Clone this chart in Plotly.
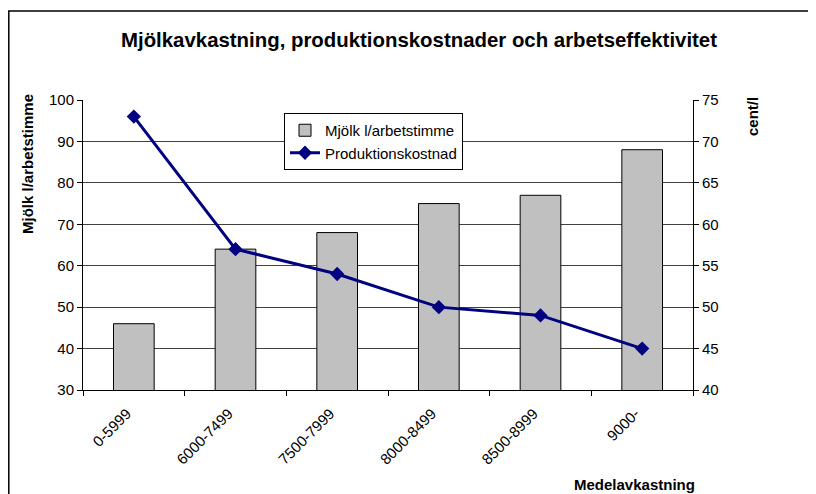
import plotly.graph_objects as go

categories = ["0-5999", "6000-7499", "7500-7999", "8000-8499", "8500-8999", "9000-"]
milk_per_hour = [46, 64, 68, 75, 77, 88]
production_cost = [73, 57, 54, 50, 49, 45]

# page body has an 8px margin; work in reference-pixel coordinates
O = 8
W, H = 816 - O, 494 - O
L, R, T, B = 83 - O, 693 - O, 100 - O, 390 - O


def px(x):
    return ((x - O) - L) / (R - L)


def py(y):
    return (B - (y - O)) / (B - T)


font = "Liberation Sans, Arial, sans-serif"

fig = go.Figure()
fig.add_trace(go.Bar(
    x=categories, y=milk_per_hour, name="Mjölk l/arbetstimme",
    marker=dict(color="#c0c0c0", line=dict(color="#000000", width=1)),
    width=0.4,
))
fig.add_trace(go.Scatter(
    x=categories, y=production_cost, name="Produktionskostnad", yaxis="y2",
    mode="lines+markers",
    line=dict(color="#000080", width=3),
    marker=dict(symbol="diamond", size=11, color="#000080"),
))

fig.update_layout(
    width=W, height=H,
    margin=dict(l=L, r=W - R, t=T, b=H - B, autoexpand=False),
    paper_bgcolor="white", plot_bgcolor="white",
    font=dict(family=font, size=15, color="#000"),
    showlegend=True,
    legend=dict(
        x=px(284), y=py(113), xanchor="left", yanchor="top",
        bgcolor="white", bordercolor="#000", borderwidth=1,
        font=dict(size=15, family=font), tracegroupgap=0,
        itemwidth=30,
    ),
    xaxis=dict(
        type="category", showline=True, linecolor="#000", linewidth=1,
        ticks="outside", tickson="boundaries", ticklen=5, tickcolor="#000",
        tickangle=-45, tickfont=dict(size=15), mirror=False,
        showgrid=False, automargin=False,
        ticklabelshift=-7, ticklabelstandoff=8,
    ),
    yaxis=dict(
        range=[30, 100], dtick=10, showline=True, linecolor="#000",
        ticks="outside", ticklen=5, tickcolor="#000",
        showgrid=True, gridcolor="#404040", gridwidth=1,
        tickfont=dict(size=15), zeroline=False, automargin=False,
    ),
    yaxis2=dict(
        range=[40, 75], dtick=5, overlaying="y", side="right",
        showline=True, linecolor="#000", ticks="outside", ticklen=5,
        tickcolor="#000", showgrid=False, tickfont=dict(size=15),
        zeroline=False, automargin=False,
    ),
    title=dict(
        text="<b>Mjölkavkastning, produktionskostnader och arbetseffektivitet</b>",
        x=px(419), xref="paper", xanchor="center",
        y=1 - (40 - O) / H, yanchor="middle",
        font=dict(size=20.4, family=font),
    ),
    annotations=[
        dict(text="<b>Mjölk l/arbetstimme</b>", x=px(27), y=py(164),
             xref="paper", yref="paper", textangle=-90, showarrow=False,
             xanchor="center", yanchor="middle",
             font=dict(size=15, family=font)),
        dict(text="<b>cent/l</b>", x=px(752), y=py(117),
             xref="paper", yref="paper", textangle=-90, showarrow=False,
             xanchor="center", yanchor="middle",
             font=dict(size=15, family=font)),
        dict(text="<b>Medelavkastning</b>", x=px(634), y=py(484),
             xref="paper", yref="paper", showarrow=False,
             xanchor="center", yanchor="middle",
             font=dict(size=15, family=font)),
    ],
    shapes=[
        dict(type="rect", xref="paper", yref="paper",
             x0=px(8.8), x1=px(830), y0=py(11), y1=py(510),
             line=dict(color="#000", width=1.5), fillcolor="rgba(0,0,0,0)",
             layer="below"),
    ],
)

fig.write_html("out.html")
